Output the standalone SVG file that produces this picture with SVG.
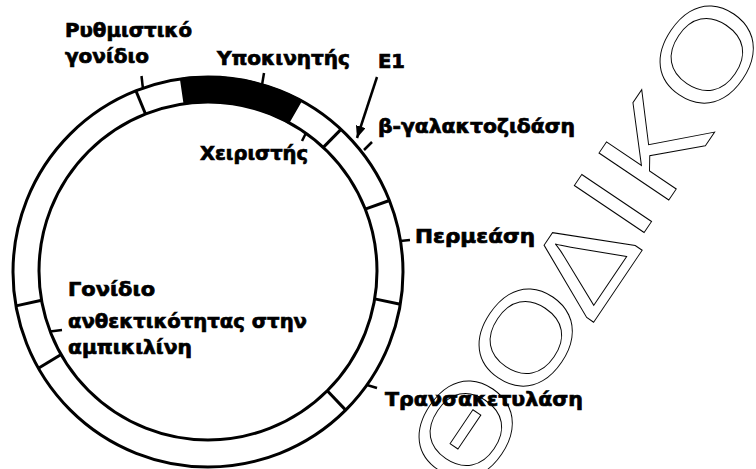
<svg xmlns="http://www.w3.org/2000/svg" width="756" height="469" viewBox="0 0 756 469">
  <style>
    .lbl { font-family: "DejaVu Sans", "Liberation Sans", sans-serif; font-weight: bold; font-size: 19px; fill: #000; stroke: #000; stroke-width: 0.7; }
    .ring { fill: none; stroke: #000; stroke-width: 3; }
    .div { stroke: #000; stroke-width: 3; stroke-linecap: butt; }
    .tick { stroke: #000; stroke-width: 2.5; fill: none; }
    .wm { font-family: "Liberation Sans", Arial, sans-serif; font-size: 136px; fill: none; stroke: #000; stroke-width: 1; text-anchor: middle; vector-effect: non-scaling-stroke; }
  </style>
  <defs>
    <marker id="arrow" markerUnits="userSpaceOnUse" markerWidth="12" markerHeight="10" refX="12" refY="5" orient="auto">
      <path d="M0,0 L12,5 L0,10 Z" fill="#000"/>
    </marker>
  </defs>
  <rect width="756" height="469" fill="#fff"/>

  <g id="watermark">
    <text class="wm" transform="translate(465,429) rotate(-56) scale(1.05,0.9)" x="0" y="48">Θ</text>
    <text class="wm" transform="translate(525,337) rotate(-56) scale(1.05,0.9)" x="0" y="48">Ο</text>
    <text class="wm" transform="translate(582,262) rotate(-56) scale(1.05,0.9)" x="0" y="48">Δ</text>
    <text class="wm" transform="translate(612,203) rotate(-56) scale(1.05,0.9)" x="0" y="48">Ι</text>
    <text class="wm" transform="translate(653,146) rotate(-56) scale(1.05,0.9)" x="0" y="48">Κ</text>
    <text class="wm" transform="translate(706,54) rotate(-56) scale(1.05,0.9)" x="0" y="48">Ο</text>
  </g>

  <g id="plasmid">
    <circle class="ring" cx="208" cy="272" r="195"/>
    <circle class="ring" cx="208" cy="271" r="169"/>
    <path id="promoter-segment" d="M180.9,78.9 A195,195 0 0 1 301.1,100.6 L288.6,122.5 A169,169 0 0 0 184.5,103.6 Z" fill="#000" stroke="#000" stroke-width="2"/>
    <line class="div" x1="135.9" y1="90.8" x2="145.5" y2="114"/>
    <line class="div" x1="341" y1="129.4" x2="323.3" y2="147.4"/>
    <line class="div" x1="389.4" y1="200.5" x2="365.2" y2="209.1"/>
    <line class="div" x1="400.3" y1="304.2" x2="374.7" y2="298.9"/>
    <line class="div" x1="345.7" y1="410.1" x2="327.3" y2="390.7"/>
    <line class="div" x1="38.4" y1="368.3" x2="61.1" y2="354.5"/>
    <line class="div" x1="16" y1="305.9" x2="41.6" y2="300.3"/>
  </g>

  <g id="connectors">
    <line class="tick" x1="143" y1="89" x2="141.5" y2="76"/>
    <line class="tick" x1="262" y1="85" x2="264" y2="73"/>
    <line class="tick" x1="306" y1="133" x2="302" y2="141"/>
    <line stroke="#000" stroke-width="2.5" x1="377" y1="77" x2="357" y2="138" marker-end="url(#arrow)"/>
    <line class="tick" x1="364" y1="150" x2="372" y2="142"/>
    <line class="tick" x1="400" y1="241" x2="410" y2="240"/>
    <line class="tick" x1="367" y1="385" x2="377" y2="388"/>
    <line class="tick" x1="50" y1="331.5" x2="62" y2="330"/>
  </g>

  <g id="regulator-gene">
    <text class="lbl" x="65" y="37" textLength="127" lengthAdjust="spacingAndGlyphs">Ρυθμιστικό</text>
    <text class="lbl" x="65" y="63" textLength="84" lengthAdjust="spacingAndGlyphs">γονίδιο</text>
  </g>
  <g id="promoter">
    <text class="lbl" x="217" y="65" textLength="133" lengthAdjust="spacingAndGlyphs">Υποκινητής</text>
  </g>
  <g id="e1">
    <text class="lbl" x="378" y="68" textLength="27" lengthAdjust="spacingAndGlyphs">E1</text>
  </g>
  <g id="operator">
    <text class="lbl" x="200" y="160" textLength="108" lengthAdjust="spacingAndGlyphs">Χειριστής</text>
  </g>
  <g id="beta-galactosidase">
    <text class="lbl" x="378" y="133" textLength="197" lengthAdjust="spacingAndGlyphs">β-γαλακτοζιδάση</text>
  </g>
  <g id="permease">
    <text class="lbl" x="415" y="243" textLength="120" lengthAdjust="spacingAndGlyphs">Περμεάση</text>
  </g>
  <g id="transacetylase">
    <text class="lbl" x="385" y="406" textLength="198" lengthAdjust="spacingAndGlyphs">Τρανσακετυλάση</text>
  </g>
  <g id="ampicillin-resistance">
    <text class="lbl" x="68" y="296" textLength="87" lengthAdjust="spacingAndGlyphs">Γονίδιο</text>
    <text class="lbl" x="68" y="328" textLength="239" lengthAdjust="spacingAndGlyphs">ανθεκτικότητας στην</text>
    <text class="lbl" x="68" y="354" textLength="124" lengthAdjust="spacingAndGlyphs">αμπικιλίνη</text>
  </g>
</svg>
